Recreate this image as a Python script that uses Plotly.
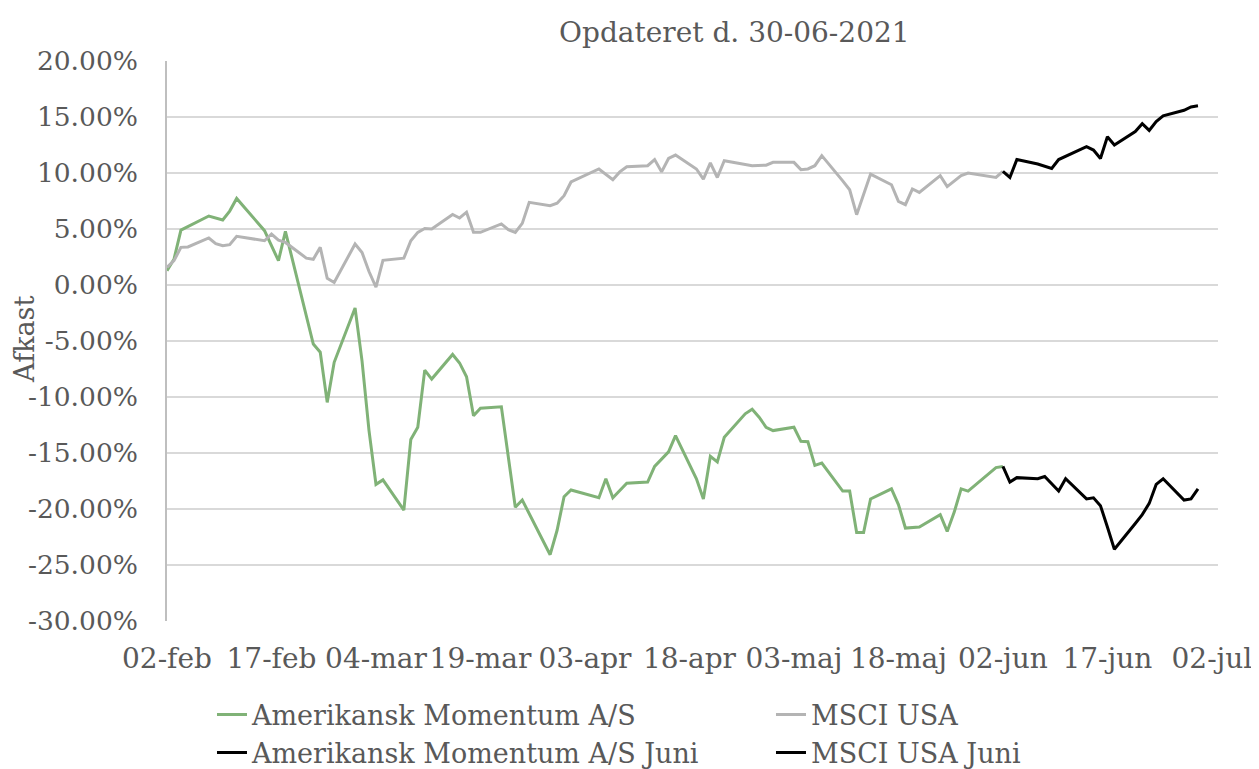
import plotly.graph_objects as go

# ---- data (returns in %) ----
fund_dates = ["2021-02-02","2021-02-03","2021-02-04","2021-02-08","2021-02-10","2021-02-11","2021-02-12",
              "2021-02-16","2021-02-18","2021-02-19","2021-02-23","2021-02-24","2021-02-25","2021-02-26",
              "2021-03-01","2021-03-02","2021-03-03","2021-03-04","2021-03-05","2021-03-08","2021-03-09",
              "2021-03-10","2021-03-11","2021-03-12","2021-03-15","2021-03-16","2021-03-17","2021-03-18",
              "2021-03-19","2021-03-22","2021-03-24","2021-03-25","2021-03-29","2021-03-30","2021-03-31",
              "2021-04-01","2021-04-05","2021-04-06","2021-04-07","2021-04-09","2021-04-12","2021-04-13",
              "2021-04-15","2021-04-16","2021-04-19","2021-04-20","2021-04-21","2021-04-22","2021-04-23",
              "2021-04-26","2021-04-27","2021-04-28","2021-04-29","2021-04-30","2021-05-03","2021-05-04",
              "2021-05-05","2021-05-06","2021-05-07","2021-05-10","2021-05-11","2021-05-12","2021-05-13",
              "2021-05-14","2021-05-17","2021-05-18","2021-05-19","2021-05-21","2021-05-24","2021-05-25",
              "2021-05-26","2021-05-27","2021-05-28","2021-06-01","2021-06-02"]
fund_values = [1.28, 2.3, 4.9, 6.16, 5.8, 6.6, 7.73,
               4.85, 2.17, 4.79, -5.27, -6.0, -10.48, -6.9,
               -2.05, -6.8, -13.0, -17.8, -17.4, -20.1, -13.8,
               -12.7, -7.6, -8.4, -6.2, -6.96, -8.2, -11.67,
               -11.0, -10.87, -19.85, -19.2, -24.08, -21.9, -18.9,
               -18.3, -19.0, -17.3, -19.0, -17.7, -17.6, -16.2,
               -14.9, -13.45, -17.3, -19.1, -15.3, -15.8, -13.6,
               -11.5, -11.1, -11.8, -12.7, -13.0, -12.7, -13.96,
               -14.0, -16.1, -15.9, -18.4, -18.4, -22.1, -22.1,
               -19.1, -18.2, -19.6, -21.7, -21.6, -20.5, -22.0,
               -20.3, -18.2, -18.4, -16.3, -16.2]

msci_dates = ["2021-02-02","2021-02-03","2021-02-04","2021-02-05","2021-02-08","2021-02-09","2021-02-10",
              "2021-02-11","2021-02-12","2021-02-16","2021-02-17","2021-02-18","2021-02-19","2021-02-22",
              "2021-02-23","2021-02-24","2021-02-25","2021-02-26","2021-03-01","2021-03-02","2021-03-03",
              "2021-03-04","2021-03-05","2021-03-08","2021-03-09","2021-03-10","2021-03-11","2021-03-12",
              "2021-03-15","2021-03-16","2021-03-17","2021-03-18","2021-03-19","2021-03-22","2021-03-23",
              "2021-03-24","2021-03-25","2021-03-26","2021-03-29","2021-03-30","2021-03-31","2021-04-01",
              "2021-04-05","2021-04-07","2021-04-08","2021-04-09","2021-04-12","2021-04-13","2021-04-14",
              "2021-04-15","2021-04-16","2021-04-19","2021-04-20","2021-04-21","2021-04-22","2021-04-23",
              "2021-04-27","2021-04-29","2021-04-30","2021-05-03","2021-05-04","2021-05-05","2021-05-06",
              "2021-05-07","2021-05-10","2021-05-11","2021-05-12","2021-05-14","2021-05-17","2021-05-18",
              "2021-05-19","2021-05-20","2021-05-21","2021-05-24","2021-05-25","2021-05-26","2021-05-27",
              "2021-05-28","2021-06-01","2021-06-02"]
msci_values = [1.57, 2.17, 3.36, 3.4, 4.2, 3.7, 3.5,
               3.6, 4.35, 3.95, 4.55, 4.0, 3.8, 2.4,
               2.3, 3.36, 0.6, 0.23, 3.66, 2.9, 1.2,
               -0.2, 2.2, 2.4, 3.95, 4.7, 5.05, 5.0,
               6.3, 5.98, 6.5, 4.7, 4.7, 5.45, 4.94,
               4.7, 5.5, 7.38, 7.08, 7.3, 7.97, 9.2,
               10.36, 9.4, 10.1, 10.56, 10.65, 11.2, 10.1,
               11.3, 11.6, 10.36, 9.46, 10.9, 9.6, 11.1,
               10.65, 10.7, 10.95, 10.95, 10.3, 10.36, 10.65,
               11.55, 9.3, 8.5, 6.28, 9.9, 8.95, 7.46,
               7.17, 8.57, 8.27, 9.76, 8.78, 9.3, 9.76,
               10.0, 9.6, 10.14]

june_fund_dates = ["2021-06-02","2021-06-03","2021-06-04","2021-06-07","2021-06-08","2021-06-10","2021-06-11",
                   "2021-06-14","2021-06-15","2021-06-16","2021-06-17","2021-06-18","2021-06-21","2021-06-22",
                   "2021-06-23","2021-06-24","2021-06-25","2021-06-28","2021-06-29","2021-06-30"]
june_fund_values = [-16.2, -17.6, -17.2, -17.3, -17.1, -18.4, -17.3,
                    -19.1, -19.0, -19.7, -21.6, -23.6, -21.3, -20.5,
                    -19.5, -17.8, -17.3, -19.2, -19.1, -18.2]

june_msci_dates = ["2021-06-02","2021-06-03","2021-06-04","2021-06-07","2021-06-09","2021-06-10",
                   "2021-06-14","2021-06-15","2021-06-16","2021-06-17","2021-06-18","2021-06-21","2021-06-22",
                   "2021-06-23","2021-06-24","2021-06-25","2021-06-28","2021-06-29","2021-06-30"]
june_msci_values = [10.14, 9.6, 11.2, 10.8, 10.4, 11.2,
                    12.35, 12.05, 11.3, 13.24, 12.5, 13.7, 14.4,
                    13.8, 14.6, 15.1, 15.6, 15.9, 16.0]

series_names = ["Amerikansk Momentum A/S", "MSCI USA", "Amerikansk Momentum A/S Juni", "MSCI USA Juni"]

x_tick_dates = ["2021-02-02","2021-02-17","2021-03-04","2021-03-19","2021-04-03","2021-04-18",
                "2021-05-03","2021-05-18","2021-06-02","2021-06-17","2021-07-02"]
x_tick_labels = ["02-feb","17-feb","04-mar","19-mar","03-apr","18-apr","03-maj","18-maj","02-jun","17-jun","02-jul"]
y_tick_vals = [20, 15, 10, 5, 0, -5, -10, -15, -20, -25, -30]
y_tick_labels = ["20.00%","15.00%","10.00%","5.00%","0.00%","-5.00%","-10.00%","-15.00%","-20.00%","-25.00%","-30.00%"]

title_text = "Opdateret d. 30-06-2021"
y_title = "Afkast"

# ---- styling ----
FONT = "DejaVu Serif"
TXT = "#595959"
GREEN = "#80B277"
GRAY = "#B4B4B4"
BLACK = "#000000"

fig = go.Figure()
fig.add_trace(go.Scatter(x=fund_dates, y=fund_values, mode="lines", name=series_names[0],
                         line=dict(color=GREEN, width=3)))
fig.add_trace(go.Scatter(x=msci_dates, y=msci_values, mode="lines", name=series_names[1],
                         line=dict(color=GRAY, width=3)))
fig.add_trace(go.Scatter(x=june_fund_dates, y=june_fund_values, mode="lines", name=series_names[2],
                         line=dict(color=BLACK, width=3)))
fig.add_trace(go.Scatter(x=june_msci_dates, y=june_msci_values, mode="lines", name=series_names[3],
                         line=dict(color=BLACK, width=3)))

PLOT_W = 1251 - 159 - 41

fig.update_layout(
    width=1251, height=761,
    margin=dict(l=159, r=41, t=53, b=148, autoexpand=False),
    paper_bgcolor="white", plot_bgcolor="white",
    font=dict(family=FONT, color=TXT, size=26),
    showlegend=True,
    legend=dict(orientation="h", x=-0.00001, xanchor="left", y=-0.124, yanchor="top",
                font=dict(size=27, color=TXT), entrywidth=469, entrywidthmode="pixels",
                itemwidth=30, traceorder="normal", indentation=45,
                bgcolor="rgba(0,0,0,0)"),
    annotations=[
        dict(text=title_text, xref="paper", yref="paper", x=0.54, y=1.0,
             xanchor="center", yanchor="bottom", yshift=10, showarrow=False,
             font=dict(size=28, color=TXT, family=FONT)),
        dict(text=y_title, xref="paper", yref="paper", x=-142 / PLOT_W, y=0.502,
             xanchor="center", yanchor="middle", textangle=-90, showarrow=False,
             font=dict(size=27, color=TXT, family=FONT)),
    ],
)
fig.update_xaxes(type="date", range=["2021-02-02", "2021-07-02 21:00"],
                 tickvals=x_tick_dates, ticktext=x_tick_labels, ticks="", showgrid=False,
                 showline=False, zeroline=False, tickfont=dict(size=28, color=TXT),
                 ticklabelstandoff=18, automargin=False)
fig.update_yaxes(range=[-30, 20], tickvals=y_tick_vals, ticktext=y_tick_labels,
                 showgrid=True, gridcolor="#D9D9D9", gridwidth=1.5, zeroline=False,
                 showline=True, linecolor="#BFBFBF", linewidth=1.5, ticks="",
                 tickfont=dict(size=26.5, color=TXT), ticklabelstandoff=22, automargin=False)

fig.write_html("out.html")
